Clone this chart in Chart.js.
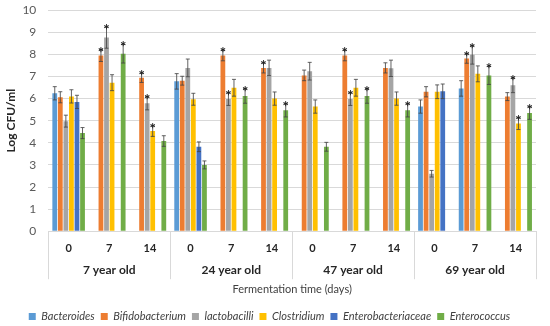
<!DOCTYPE html>
<html>
<head>
<meta charset="utf-8">
<script src="https://cdn.jsdelivr.net/npm/chart.js@4.4.0/dist/chart.umd.min.js"></script>
<style>
  html, body { margin: 0; padding: 0; background: #fff; }
  canvas { display: block; }
</style>
</head>
<body>
<canvas id="chart" width="550" height="326"></canvas>
<script>
// categories
const days = ['0', '7', '14', '0', '7', '14', '0', '7', '14', '0', '7', '14'];
const ages = ['7 year old', '24 year old', '47 year old', '69 year old'];

// mean log CFU/ml per series (null = not shown)
const bacteroides  = [6.24, null, null, 6.78, null, null, null, null, null, 5.64, 6.46, null];
const bifido       = [6.06, 7.95, 6.94, 6.81, 7.95, 7.39, 7.05, 7.95, 7.39, 6.31, 7.82, 6.09];
const lacto        = [4.98, 8.76, 5.79, 7.39, 5.98, 7.39, 7.24, 5.98, 7.37, 2.60, 7.98, 6.60];
const clostridium  = [6.10, 6.72, 4.53, 5.97, 6.49, 6.00, 5.64, 6.49, 6.00, 6.31, 7.12, 4.87];
const enterobact   = [5.85, null, null, 3.82, null, null, null, null, null, 6.33, null, null];
const enterococcus = [4.44, 8.03, 4.08, 3.00, 6.12, 5.47, 3.82, 6.12, 5.47, null, 7.05, 5.35];

// error bar half-lengths
const bacteroidesErr  = [0.30, null, null, 0.35, null, null, null, null, null, 0.30, 0.35, null];
const bifidoErr       = [0.25, 0.27, 0.21, 0.20, 0.24, 0.23, 0.24, 0.24, 0.23, 0.23, 0.22, 0.18];
const lactoErr        = [0.27, 0.48, 0.30, 0.40, 0.29, 0.35, 0.40, 0.29, 0.37, 0.15, 0.42, 0.33];
const clostridiumErr  = [0.30, 0.36, 0.24, 0.27, 0.38, 0.30, 0.30, 0.38, 0.30, 0.31, 0.36, 0.27];
const enterobactErr   = [0.30, null, null, 0.22, null, null, null, null, null, 0.33, null, null];
const enterococcusErr = [0.25, 0.42, 0.24, 0.18, 0.33, 0.30, 0.20, 0.33, 0.30, null, 0.41, 0.29];

// significance markers (1 = asterisk)
const bacteroidesSig  = [0, 0, 0, 0, 0, 0, 0, 0, 0, 0, 0, 0];
const bifidoSig       = [0, 1, 1, 0, 1, 1, 0, 1, 0, 0, 1, 0];
const lactoSig        = [0, 1, 1, 0, 1, 0, 0, 1, 0, 0, 1, 1];
const clostridiumSig  = [0, 0, 1, 0, 0, 0, 0, 0, 0, 0, 0, 1];
const enterobactSig   = [0, 0, 0, 0, 0, 0, 0, 0, 0, 0, 0, 0];
const enterococcusSig = [0, 1, 0, 0, 1, 1, 0, 1, 1, 0, 1, 1];

const FONT = 'Lato, "Open Sans", sans-serif';

function makeSet(label, data, err, sig, color) {
  return {
    label: label,
    data: data,
    err: err,
    sig: sig,
    backgroundColor: color,
    borderWidth: 0,
    categoryPercentage: 0.82,
    barPercentage: 0.86
  };
}

// error bars + asterisks
const errorBars = {
  id: 'errorBars',
  afterDatasetsDraw(chart) {
    const ctx = chart.ctx;
    const y = chart.scales.y;
    ctx.save();
    chart.data.datasets.forEach((ds, i) => {
      const meta = chart.getDatasetMeta(i);
      meta.data.forEach((bar, j) => {
        const v = ds.data[j];
        const e = ds.err[j];
        if (v == null || e == null) return;
        const top = y.getPixelForValue(v + e);
        const bot = y.getPixelForValue(v - e);
        ctx.strokeStyle = 'rgba(70,70,70,0.85)';
        ctx.lineWidth = 1;
        ctx.beginPath();
        ctx.moveTo(bar.x, top);
        ctx.lineTo(bar.x, bot);
        ctx.moveTo(bar.x - 2, top);
        ctx.lineTo(bar.x + 2, top);
        ctx.moveTo(bar.x - 2, bot);
        ctx.lineTo(bar.x + 2, bot);
        ctx.stroke();
        if (ds.sig[j]) {
          ctx.fillStyle = '#222';
          ctx.font = 'bold 15px ' + FONT;
          ctx.textAlign = 'center';
          ctx.textBaseline = 'alphabetic';
          ctx.fillText('*', bar.x, top + 8);
        }
      });
    });
    ctx.restore();
  }
};

// group separators under the x axis
const groupLines = {
  id: 'groupLines',
  afterDraw(chart) {
    const ctx = chart.ctx;
    const x = chart.scales.x;
    const area = chart.chartArea;
    ctx.save();
    ctx.strokeStyle = '#d9d9d9';
    ctx.lineWidth = 1;
    ctx.beginPath();
    for (let g = 0; g <= ages.length; g++) {
      let px;
      if (g === 0) px = area.left;
      else if (g === ages.length) px = area.right;
      else px = (x.getPixelForValue(g * 3 - 1) + x.getPixelForValue(g * 3)) / 2;
      px = Math.round(px) + 0.5;
      ctx.moveTo(px, area.bottom);
      ctx.lineTo(px, area.bottom + 48);
    }
    ctx.stroke();
    ctx.restore();
  }
};

new Chart(document.getElementById('chart'), {
  type: 'bar',
  data: {
    labels: days,
    datasets: [
      makeSet('Bacteroides', bacteroides, bacteroidesErr, bacteroidesSig, '#5B9BD5'),
      makeSet('Bifidobacterium', bifido, bifidoErr, bifidoSig, '#ED7D31'),
      makeSet('lactobacilli', lacto, lactoErr, lactoSig, '#A5A5A5'),
      makeSet('Clostridium', clostridium, clostridiumErr, clostridiumSig, '#FFC000'),
      makeSet('Enterobacteriaceae', enterobact, enterobactErr, enterobactSig, '#4472C4'),
      makeSet('Enterococcus', enterococcus, enterococcusErr, enterococcusSig, '#70AD47')
    ]
  },
  options: {
    responsive: false,
    animation: false,
    devicePixelRatio: 1,
    layout: { padding: { top: 0, right: 14, left: 3, bottom: -6 } },
    plugins: {
      legend: {
        position: 'bottom',
        labels: {
          boxWidth: 7,
          boxHeight: 7,
          padding: 6,
          color: '#404040',
          font: { family: FONT, size: 11, style: 'italic' }
        }
      },
      tooltip: { enabled: false }
    },
    scales: {
      x: {
        grid: { display: false },
        border: { color: '#d9d9d9' },
        ticks: { color: '#262626', padding: 3, font: { family: FONT, size: 11, weight: 'bold' } }
      },
      x2: {
        type: 'category',
        labels: ages,
        position: 'bottom',
        offset: true,
        weight: 1,
        grid: { display: false },
        border: { display: false },
        ticks: { color: '#262626', padding: -3, font: { family: FONT, size: 12, weight: 'bold' } },
        title: {
          display: true,
          text: 'Fermentation time (days)',
          color: '#404040',
          padding: { top: 8, bottom: 9 },
          font: { family: FONT, size: 11 }
        }
      },
      y: {
        min: 0,
        max: 10,
        ticks: { stepSize: 1, color: '#595959', padding: 3, font: { family: FONT, size: 12 } },
        grid: { color: '#d9d9d9', drawTicks: true, tickLength: 9, tickColor: 'rgba(0,0,0,0)' },
        border: { display: false },
        title: {
          display: true,
          text: 'Log CFU/ml',
          color: '#262626',
          padding: 1,
          font: { family: FONT, size: 12, weight: 'bold' }
        }
      }
    }
  },
  plugins: [errorBars, groupLines]
});
</script>
</body>
</html>
